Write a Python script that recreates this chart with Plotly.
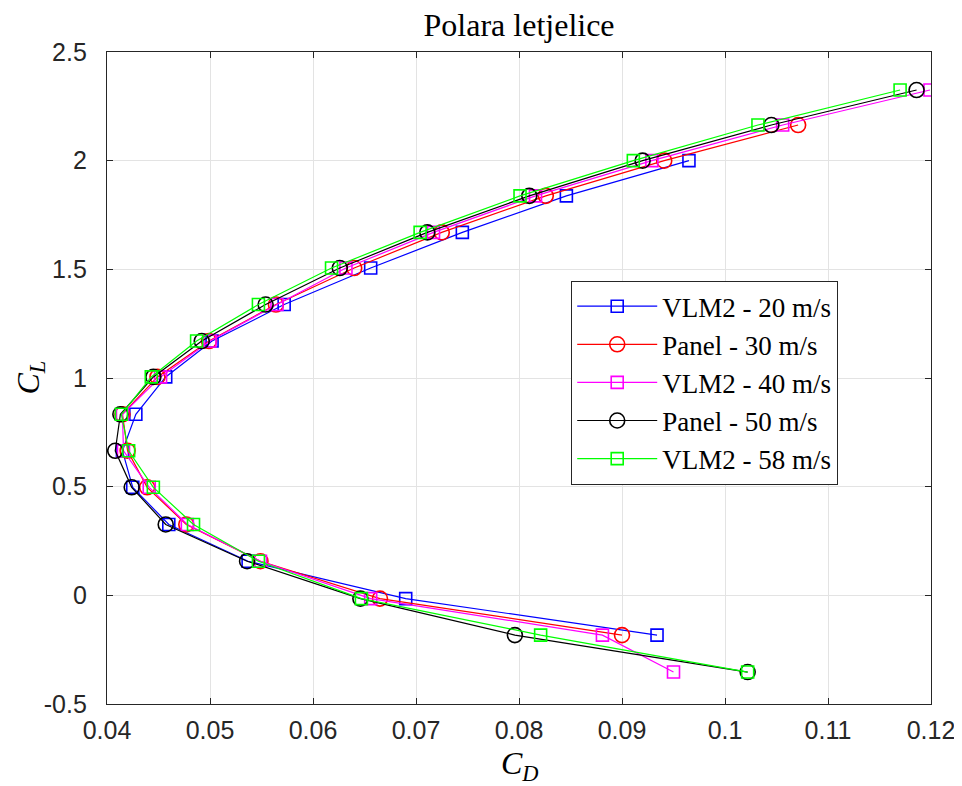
import plotly.graph_objects as go

# Lift coefficient levels (shared angle-of-attack sweep)
cl_all = [-0.353, -0.183, -0.015, 0.157, 0.326, 0.497, 0.665, 0.833, 1.005,
          1.17, 1.338, 1.506, 1.67, 1.838, 2.0, 2.164, 2.325]

# VLM2 - 20 m/s (points from CL=-0.183 to 2.0)
cl_vlm20 = cl_all[1:15]
cd_vlm20 = [0.0934, 0.0690, 0.0537, 0.0460, 0.0425, 0.0415, 0.0428, 0.0457,
            0.0502, 0.0572, 0.0656, 0.0745, 0.0846, 0.0965]

# Panel - 30 m/s (points from CL=-0.183 to 2.164)
cl_pan30 = cl_all[1:16]
cd_pan30 = [0.0900, 0.0665, 0.0549, 0.0477, 0.0439, 0.0420, 0.0415, 0.0449,
            0.0499, 0.0564, 0.0640, 0.0725, 0.0826, 0.0941, 0.1071]

# VLM2 - 40 m/s
cl_vlm40 = cl_all
cd_vlm40 = [0.0950, 0.0881, 0.0656, 0.0549, 0.0478, 0.0441, 0.0416, 0.0415,
            0.0452, 0.0500, 0.0565, 0.0632, 0.0717, 0.0816, 0.0929, 0.1056, 0.1199]

# Panel - 50 m/s
cl_pan50 = cl_all
cd_pan50 = [0.1022, 0.0796, 0.0646, 0.0536, 0.0457, 0.0424, 0.0408, 0.0413,
            0.0445, 0.0492, 0.0554, 0.0626, 0.0711, 0.0810, 0.0920, 0.1045, 0.1186]

# VLM2 - 58 m/s
cl_vlm58 = cl_all
cd_vlm58 = [0.1022, 0.0821, 0.0647, 0.0547, 0.0484, 0.0445, 0.0421, 0.0414,
            0.0443, 0.0487, 0.0547, 0.0618, 0.0704, 0.0801, 0.0911, 0.1032, 0.1170]

x_ticks = [0.04, 0.05, 0.06, 0.07, 0.08, 0.09, 0.10, 0.11, 0.12]
x_tick_labels = ["0.04", "0.05", "0.06", "0.07", "0.08", "0.09", "0.1", "0.11", "0.12"]
y_ticks = [-0.5, 0, 0.5, 1, 1.5, 2, 2.5]
y_tick_labels = ["-0.5", "0", "0.5", "1", "1.5", "2", "2.5"]

series = [
    ("VLM2 - 20 m/s", cd_vlm20, cl_vlm20, "#0000ff", "square-open"),
    ("Panel - 30 m/s", cd_pan30, cl_pan30, "#ff0000", "circle-open"),
    ("VLM2 - 40 m/s", cd_vlm40, cl_vlm40, "#ff00ff", "square-open"),
    ("Panel - 50 m/s", cd_pan50, cl_pan50, "#000000", "circle-open"),
    ("VLM2 - 58 m/s", cd_vlm58, cl_vlm58, "#00ff00", "square-open"),
]

SERIF = "Liberation Serif, Times New Roman, serif"
SANS = "Liberation Sans, Arial, Helvetica, sans-serif"

fig = go.Figure()
for name, xs, ys, col, sym in series:
    size = 12 if sym == "square-open" else 15
    fig.add_trace(go.Scatter(
        x=xs, y=ys, mode="lines+markers", name=name,
        line=dict(color=col, width=1.2),
        marker=dict(symbol=sym, size=size, color=col, line=dict(color=col, width=1.6)),
    ))

axis_common = dict(
    showline=True, linecolor="#262626", linewidth=1.3, mirror="ticks",
    ticks="inside", ticklen=6, tickcolor="#262626", tickwidth=1.2,
    showgrid=True, gridcolor="#e3e3e3", gridwidth=1,
    zeroline=False, automargin=False,
    tickfont=dict(family=SANS, size=25, color="#262626"),
)

# The page body adds an 8px offset, so the figure is 8px smaller on each axis
fig.update_layout(
    width=954, height=778,
    paper_bgcolor="white", plot_bgcolor="white",
    margin=dict(l=99, r=31, t=44, b=82),
    title=dict(text="Polara letjelice", x=0.5357, xanchor="center", y=0.978, yanchor="middle",
               font=dict(family=SERIF, size=32, color="black")),
    xaxis=dict(range=[0.04, 0.12], tickvals=x_ticks, ticktext=x_tick_labels,
               ticklabelstandoff=4, **axis_common),
    yaxis=dict(range=[-0.5, 2.5], tickvals=y_ticks, ticktext=y_tick_labels,
               ticklabelstandoff=14, **axis_common),
    legend=dict(x=0.563, y=0.649, xanchor="left", yanchor="top",
                bgcolor="white", bordercolor="#262626", borderwidth=1.3,
                font=dict(family=SERIF, size=27, color="black"),
                itemwidth=80, tracegroupgap=0),
    showlegend=True,
    annotations=[
        dict(text="<i>C</i><sub><i>D</i></sub>", xref="paper", yref="paper",
             x=0.501, y=-0.094, xanchor="center", yanchor="middle", showarrow=False,
             font=dict(family=SERIF, size=32, color="black")),
        dict(text="<i>C</i><sub><i>L</i></sub>", xref="paper", yref="paper",
             x=-0.094, y=0.5, xanchor="center", yanchor="middle", showarrow=False,
             textangle=-90, font=dict(family=SERIF, size=32, color="black")),
    ],
)

fig.write_html("out.html")
